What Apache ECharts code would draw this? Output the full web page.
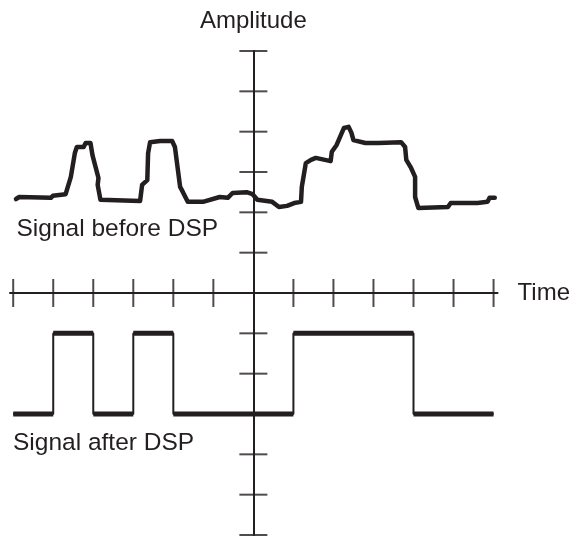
<!DOCTYPE html>
<html>
<head>
<meta charset="utf-8">
<script src="https://cdn.jsdelivr.net/npm/echarts@6/dist/echarts.min.js"></script>
<style>
  html, body { margin: 0; padding: 0; background: #fff; }
  #main { width: 573px; height: 536px; }
</style>
</head>
<body>
<div id="main"></div>
<script>
// signal before DSP (time, amplitude)
var beforeTime = [-5.93, -5.85, -5.06, -5.01, -4.69, -4.56, -4.46, -4.41, -4.24, -4.19, -4.07, -4.02, -3.87, -3.89, -3.82,
  -2.83, -2.78, -2.65, -2.63, -2.58, -2.33, -2.03, -1.96, -1.83, -1.76, -1.64, -1.26, -0.84, -0.64, -0.52, -0.17, -0.02,
  0.10, 0.47, 0.64, 0.84, 0.89, 1.02, 1.19, 1.21, 1.31, 1.44, 1.56, 1.93, 1.96, 2.08, 2.26, 2.38, 2.45, 2.50, 2.80, 3.12,
  3.69, 3.79, 3.82, 3.94, 4.04, 4.04, 4.12, 4.86, 4.93, 5.60, 5.85, 5.90, 6.03];
var beforeAmp = [2.33, 2.38, 2.36, 2.41, 2.45, 2.88, 3.47, 3.62, 3.62, 3.72, 3.72, 3.42, 2.85, 2.68, 2.31,
  2.28, 2.68, 2.80, 3.47, 3.74, 3.77, 3.77, 3.62, 2.63, 2.50, 2.26, 2.26, 2.38, 2.36, 2.48, 2.50, 2.45,
  2.31, 2.26, 2.13, 2.16, 2.18, 2.23, 2.26, 2.63, 3.22, 3.30, 3.35, 3.27, 3.50, 3.67, 4.09, 4.12, 3.97, 3.79, 3.72, 3.72,
  3.74, 3.62, 3.30, 3.10, 2.88, 2.38, 2.11, 2.13, 2.23, 2.23, 2.26, 2.36, 2.36];

// signal after DSP: square wave
var afterTime = [-6, -5, -5, -4, -4, -3, -3, -2, -2, 1, 1, 4, 4, 6];
var afterAmp = [-3, -3, -1, -1, -3, -3, -1, -1, -3, -3, -1, -1, -3, -3];

// tick marks on both axes (they cross the axis line)
var timeTicks = [-6, -5, -4, -3, -2, -1, 1, 2, 3, 4, 5, 6];
var ampTicks = [-6, -5, -4, -3, -2, -1, 1, 2, 3, 4, 5, 6];

var ink = '#231f20';

function zip(a, b) {
  var out = [];
  for (var i = 0; i < a.length; i++) out.push([a[i], b[i]]);
  return out;
}

// flat parts of the square wave are drawn heavier than the edges
var afterFlat = [];
for (var i = 0; i + 1 < afterTime.length; i++) {
  if (afterAmp[i] === afterAmp[i + 1]) {
    afterFlat.push([afterTime[i], afterAmp[i]], [afterTime[i + 1], afterAmp[i + 1]], '-');
  }
}

var myChart = echarts.init(document.getElementById('main'));

var axisLineStyle = { color: ink, width: 2 };
var nameStyle = { color: ink, fontSize: 24, fontFamily: 'Liberation Sans' };

option = {
  animation: false,
  backgroundColor: '#fff',
  grid: { left: 10, right: 72, top: 51, bottom: 1 },
  xAxis: {
    type: 'value', min: -6.08, max: 6.1,
    axisLine: { onZero: true, lineStyle: axisLineStyle },
    axisTick: { show: false },
    axisLabel: { show: false },
    splitLine: { show: false },
    name: 'Time', nameLocation: 'end', nameGap: 20,
    nameTextStyle: nameStyle
  },
  yAxis: {
    type: 'value', min: -6, max: 6,
    axisLine: { onZero: true, lineStyle: axisLineStyle },
    axisTick: { show: false },
    axisLabel: { show: false },
    splitLine: { show: false },
    name: 'Amplitude', nameLocation: 'end', nameGap: 18,
    nameTextStyle: nameStyle
  },
  graphic: [
    { type: 'text', x: 16.5, y: 229,
      style: { text: 'Signal before DSP', fill: ink, font: '24.5px "Liberation Sans"', verticalAlign: 'middle' } },
    { type: 'text', x: 13, y: 443,
      style: { text: 'Signal after DSP', fill: ink, font: '24.5px "Liberation Sans"', verticalAlign: 'middle' } }
  ],
  series: [
    {
      name: 'time ticks', type: 'scatter',
      data: timeTicks.map(function (t) { return [t, 0]; }),
      symbol: 'rect', symbolSize: [2, 28],
      itemStyle: { color: ink }, silent: true
    },
    {
      name: 'amplitude ticks', type: 'scatter',
      data: ampTicks.map(function (a) { return [0, a]; }),
      symbol: 'rect', symbolSize: [28, 2],
      itemStyle: { color: ink }, silent: true
    },
    {
      name: 'Signal before DSP', type: 'line',
      data: zip(beforeTime, beforeAmp),
      symbol: 'none',
      lineStyle: { color: ink, width: 4.5, join: 'round', cap: 'round' }
    },
    {
      name: 'Signal after DSP', type: 'line',
      data: zip(afterTime, afterAmp),
      symbol: 'none',
      lineStyle: { color: ink, width: 2 }
    },
    {
      name: 'Signal after DSP (levels)', type: 'line',
      data: afterFlat,
      symbol: 'none', connectNulls: false,
      lineStyle: { color: ink, width: 5 }
    }
  ]
};
myChart.setOption(option);
</script>
</body>
</html>
